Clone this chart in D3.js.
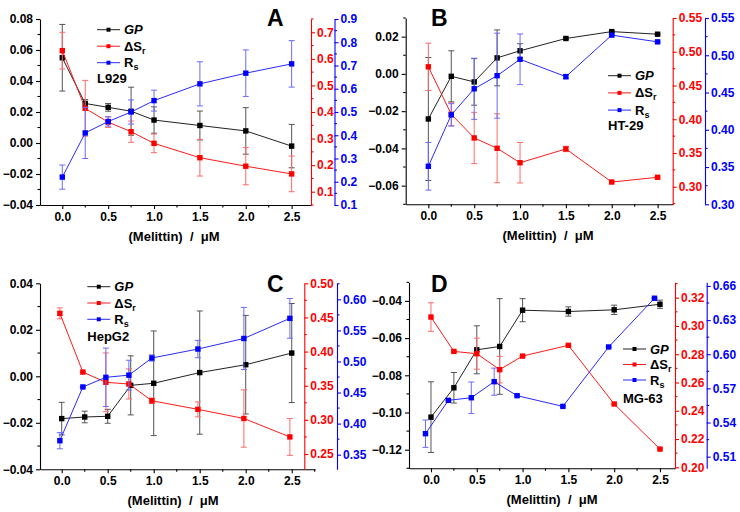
<!DOCTYPE html>
<html><head><meta charset="utf-8">
<script src="https://cdn.jsdelivr.net/npm/d3@7"></script>
<style>
body{margin:0;background:#fff;}
svg{font-family:"Liberation Sans",Arial,sans-serif;font-weight:bold;}
</style></head>
<body><svg id="chart" width="740" height="512"></svg>
<script>
// ---------------- DATA ----------------
const xValues = [0, 0.25, 0.5, 0.75, 1.0, 1.5, 2.0, 2.5];
const xTicks = [0, 0.5, 1.0, 1.5, 2.0, 2.5];
const seriesNames = ["GP", "ΔSr", "Rs"];

// Panel A – L929
const gpA = [0.055, 0.0255, 0.023, 0.0205, 0.0148, 0.0113, 0.0078, -0.002];
const gpErrA = [0.0215, 0.0025, 0.0025, 0.0155, 0.0085, 0.0093, 0.015, 0.014];
const dsA = [0.631, 0.414, 0.362, 0.326, 0.282, 0.228, 0.196, 0.167];
const dsErrA = [0.069, 0.105, 0.02, 0.04, 0.035, 0.069, 0.07, 0.067];
const rsA = [0.220, 0.410, 0.459, 0.500, 0.549, 0.621, 0.667, 0.707];
const rsErrA = [0.052, 0.11, 0.02, 0.052, 0.045, 0.095, 0.1, 0.1];
const leftTicksA = [-0.04, -0.02, 0.00, 0.02, 0.04, 0.06, 0.08];
const redTicksA = [0.1, 0.2, 0.3, 0.4, 0.5, 0.6, 0.7];
const blueTicksA = [0.1, 0.2, 0.3, 0.4, 0.5, 0.6, 0.7, 0.8, 0.9];

// Panel B – HT-29
const gpB = [-0.0242, -0.0013, -0.0043, 0.0086, 0.0124, 0.019, 0.0227, 0.0213];
const gpErrB = [0.033, 0.0137, 0.0125, 0.015, 0.0038, 0.0005, 0.0005, 0.0005];
const dsB = [0.4777, 0.4074, 0.3723, 0.357, 0.3356, 0.356, 0.307, 0.314];
const dsErrB = [0.035, 0.017, 0.038, 0.051, 0.03, 0.004, 0.001, 0.001];
const rsB = [0.351, 0.420, 0.455, 0.4726, 0.4946, 0.4713, 0.527, 0.518];
const rsErrB = [0.032, 0.015, 0.041, 0.057, 0.034, 0.003, 0.001, 0.001];
const leftTicksB = [-0.06, -0.04, -0.02, 0.00, 0.02];
const redTicksB = [0.30, 0.35, 0.40, 0.45, 0.50, 0.55];
const blueTicksB = [0.30, 0.35, 0.40, 0.45, 0.50, 0.55];

// Panel C – HepG2 (ΔSr and Rs plotted slightly left of the nominal doses)
const xShiftedC = [-0.02, 0.23, 0.48, 0.73, 0.98, 1.48, 1.98, 2.48];
const gpC = [-0.0182, -0.0175, -0.0172, -0.0039, -0.003, 0.0016, 0.005, 0.010];
const gpErrC = [0.007, 0.0025, 0.003, 0.0127, 0.0225, 0.0265, 0.0212, 0.0213];
const dsC = [0.456, 0.370, 0.355, 0.3525, 0.328, 0.3154, 0.302, 0.275];
const dsErrC = [0.008, 0.001, 0.043, 0.022, 0.004, 0.011, 0.042, 0.027];
const rsC = [0.3725, 0.459, 0.4745, 0.478, 0.5056, 0.520, 0.537, 0.5694];
const rsErrC = [0.013, 0.001, 0.047, 0.024, 0.005, 0.014, 0.05, 0.032];
const leftTicksC = [-0.04, -0.02, 0.00, 0.02, 0.04];
const redTicksC = [0.25, 0.30, 0.35, 0.40, 0.45, 0.50];
const blueTicksC = [0.35, 0.40, 0.45, 0.50, 0.55, 0.60];

// Panel D – MG-63 (Rs plotted slightly left of the nominal doses)
const xShiftedD = [-0.06, 0.19, 0.44, 0.69, 0.94, 1.44, 1.94, 2.44];
const gpD = [-0.1025, -0.0867, -0.0663, -0.0645, -0.045, -0.0457, -0.0448, -0.0418];
const gpErrD = [0.019, 0.0082, 0.0129, 0.0257, 0.0062, 0.0025, 0.0025, 0.0022];
const dsD = [0.3063, 0.282, 0.2804, 0.2691, 0.2787, 0.2863, 0.2448, 0.2129];
const dsErrD = [0.0101, 0.0005, 0.011, 0.0094, 0.0005, 0.0005, 0.0005, 0.0005];
const rsD = [0.5302, 0.5595, 0.5618, 0.5759, 0.5636, 0.5542, 0.6064, 0.6492];
const rsErrD = [0.012, 0.0005, 0.0138, 0.0119, 0.0005, 0.0005, 0.0005, 0.0005];
const leftTicksD = [-0.12, -0.10, -0.08, -0.06, -0.04];
const redTicksD = [0.20, 0.22, 0.24, 0.26, 0.28, 0.30, 0.32];
const blueTicksD = [0.51, 0.54, 0.57, 0.60, 0.63, 0.66];

const cellLines = ["L929", "HT-29", "HepG2", "MG-63"];
const panelLetters = ["A", "B", "C", "D"];
const xTitle = "(Melittin)  /  μM";

// ---------------- LAYOUT ----------------
const panels = [
  {letter: panelLetters[0], cell: cellLines[0],
   left: 40, xEnd: 311, redX: 311, blueX: 334.5, top: 19, bottom: 205,
   xDom: [-0.243, 2.711], lDom: [-0.04, 0.08], rDom: [0.05, 0.75], bDom: [0.1, 0.9],
   lTicks: leftTicksA, rTicks: redTicksA, bTicks: blueTicksA, lMinor: 0.01, rMinor: 0.05, bMinor: 0.05,
   lFmt: ".2f", rFmt: ".1f", bFmt: ".1f",
   series: [[xValues, gpA, gpErrA], [xValues, dsA, dsErrA], [xValues, rsA, rsErrA]],
   legX: 97, legY: 29.7, legDy: 16.5, cellY: 83, letterX: 267, letterY: 26, titleX: 174},
  {letter: panelLetters[1], cell: cellLines[1],
   left: 405.7, xEnd: 673, redX: 672.7, blueX: 705, top: 18, bottom: 204.3,
   xDom: [-0.247, 2.668], lDom: [-0.07, 0.03], rDom: [0.274, 0.55], bDom: [0.30, 0.55],
   lTicks: leftTicksB, rTicks: redTicksB, bTicks: blueTicksB, lMinor: 0.01, rMinor: 0.025, bMinor: 0.025,
   lFmt: ".2f", rFmt: ".2f", bFmt: ".2f",
   series: [[xValues, gpB, gpErrB], [xValues, dsB, dsErrB], [xValues, rsB, rsErrB]],
   legX: 608, legY: 75.7, legDy: 17.2, cellY: 130, letterX: 431, letterY: 26, titleX: 548},
  {letter: panelLetters[2], cell: cellLines[2],
   left: 40, xEnd: 315, redX: 304.3, blueX: 337, top: 283.3, bottom: 469.3,
   xDom: [-0.236, 2.753], lDom: [-0.04, 0.04], rDom: [0.2276, 0.50], bDom: [0.3265, 0.6258],
   lTicks: leftTicksC, rTicks: redTicksC, bTicks: blueTicksC, lMinor: 0.01, rMinor: 0.025, bMinor: 0.025,
   lFmt: ".2f", rFmt: ".2f", bFmt: ".2f",
   series: [[xValues, gpC, gpErrC], [xShiftedC, dsC, dsErrC], [xShiftedC, rsC, rsErrC]],
   legX: 87.3, legY: 286.7, legDy: 16.3, cellY: 341, letterX: 267, letterY: 291.7, titleX: 173},
  {letter: panelLetters[3], cell: cellLines[3],
   left: 409, xEnd: 675, redX: 675, blueX: 706.7, top: 282.3, bottom: 468.3,
   xDom: [-0.240, 2.664], lDom: [-0.13, -0.03], rDom: [0.1993, 0.3309], bDom: [0.4998, 0.6632],
   lTicks: leftTicksD, rTicks: redTicksD, bTicks: blueTicksD, lMinor: 0.01, rMinor: 0.01, bMinor: 0.015,
   lFmt: ".2f", rFmt: ".2f", bFmt: ".2f",
   series: [[xValues, gpD, gpErrD], [xValues, dsD, dsErrD], [xShiftedD, rsD, rsErrD]],
   legX: 623, legY: 349, legDy: 15.5, cellY: 402.5, letterX: 431, letterY: 292, titleX: 552}
];

const lineColors = ["#222222", "#ff1a1a", "#2a2aff"];
const errColors = ["#555555", "#ff6a6a", "#6a6aff"];
const markColors = ["#000000", "#ff0000", "#0000ff"];
const axisColors = ["#000000", "#ff0000", "#0000ff"];

const svg = d3.select("#chart");

function minorTicks(dom, step, majors) {
  const out = [];
  const start = Math.ceil(dom[0] / step - 1e-6);
  const end = Math.floor(dom[1] / step + 1e-6);
  for (let i = start; i <= end; i++) {
    const v = i * step;
    if (!majors.some(m => Math.abs(m - v) < step * 0.01)) out.push(v);
  }
  return out;
}

function styleAxis(g, color) {
  g.selectAll("path.domain").attr("stroke", color).attr("stroke-width", 1.1);
  g.selectAll(".tick line").attr("stroke", color).attr("stroke-width", 1.1);
  g.selectAll(".tick text").attr("fill", color).attr("font-size", 12)
    .attr("font-weight", "bold").attr("font-family", "Liberation Sans, Arial, sans-serif");
}

function drawMinor(g, scale, vals, orient, color) {
  vals.forEach(v => {
    const p = scale(v);
    let l;
    if (orient === "left") l = [0, p, -2.5, p];
    else if (orient === "right") l = [0, p, 2.5, p];
    else l = [p, 0, p, 2.5];
    g.append("line").attr("x1", l[0]).attr("y1", l[1]).attr("x2", l[2]).attr("y2", l[3])
      .attr("stroke", color).attr("stroke-width", 1.1);
  });
}

panels.forEach(P => {
  const x = d3.scaleLinear().domain(P.xDom).range([P.left, P.xEnd]);
  const yL = d3.scaleLinear().domain(P.lDom).range([P.bottom, P.top]);
  const yR = d3.scaleLinear().domain(P.rDom).range([P.bottom, P.top]);
  const yB = d3.scaleLinear().domain(P.bDom).range([P.bottom, P.top]);
  const yScales = [yL, yR, yB];

  // x axis
  const gx = svg.append("g").attr("transform", `translate(0,${P.bottom})`)
    .call(d3.axisBottom(x).tickValues(xTicks).tickFormat(d3.format(".1f")).tickSizeInner(4).tickSizeOuter(0).tickPadding(3));
  styleAxis(gx, "#000");
  drawMinor(gx, x, minorTicks(P.xDom, 0.25, xTicks), "bottom", "#000");

  // left axis
  const gl = svg.append("g").attr("transform", `translate(${P.left},0)`)
    .call(d3.axisLeft(yL).tickValues(P.lTicks).tickFormat(d3.format(P.lFmt)).tickSizeInner(4).tickSizeOuter(0).tickPadding(3));
  styleAxis(gl, "#000");
  drawMinor(gl, yL, minorTicks(P.lDom, P.lMinor, P.lTicks), "left", "#000");

  // red axis
  const gr = svg.append("g").attr("transform", `translate(${P.redX},0)`)
    .call(d3.axisRight(yR).tickValues(P.rTicks).tickFormat(d3.format(P.rFmt)).tickSizeInner(4).tickSizeOuter(0).tickPadding(2));
  styleAxis(gr, axisColors[1]);
  drawMinor(gr, yR, minorTicks(P.rDom, P.rMinor, P.rTicks), "right", axisColors[1]);

  // blue axis
  const gb = svg.append("g").attr("transform", `translate(${P.blueX},0)`)
    .call(d3.axisRight(yB).tickValues(P.bTicks).tickFormat(d3.format(P.bFmt)).tickSizeInner(4).tickSizeOuter(0).tickPadding(2));
  styleAxis(gb, axisColors[2]);
  drawMinor(gb, yB, minorTicks(P.bDom, P.bMinor, P.bTicks), "right", axisColors[2]);

  // series
  P.series.forEach((s, si) => {
    const [xs, ys, es] = s;
    const ysc = yScales[si];
    const data = xs.map((xv, i) => ({x: xv, y: ys[i], e: es[i]}));
    const g = svg.append("g");
    const eb = g.selectAll("g.eb").data(data).enter().append("g").attr("stroke", errColors[si]).attr("stroke-width", 1);
    eb.append("line").attr("x1", d => x(d.x)).attr("x2", d => x(d.x))
      .attr("y1", d => ysc(d.y - d.e)).attr("y2", d => ysc(d.y + d.e));
    eb.append("line").attr("x1", d => x(d.x) - 3).attr("x2", d => x(d.x) + 3)
      .attr("y1", d => ysc(d.y - d.e)).attr("y2", d => ysc(d.y - d.e));
    eb.append("line").attr("x1", d => x(d.x) - 3).attr("x2", d => x(d.x) + 3)
      .attr("y1", d => ysc(d.y + d.e)).attr("y2", d => ysc(d.y + d.e));
    g.append("path").datum(data)
      .attr("d", d3.line().x(d => x(d.x)).y(d => ysc(d.y)))
      .attr("fill", "none").attr("stroke", lineColors[si]).attr("stroke-width", 1);
    g.selectAll("rect").data(data).enter().append("rect")
      .attr("x", d => x(d.x) - 2.7).attr("y", d => ysc(d.y) - 2.7)
      .attr("width", 5.4).attr("height", 5.4).attr("fill", markColors[si]);
  });

  // legend
  seriesNames.forEach((name, i) => {
    const ly = P.legY + i * P.legDy;
    svg.append("line").attr("x1", P.legX).attr("x2", P.legX + 23).attr("y1", ly).attr("y2", ly)
      .attr("stroke", lineColors[i]).attr("stroke-width", 1);
    svg.append("rect").attr("x", P.legX + 11.5 - 2).attr("y", ly - 2).attr("width", 4).attr("height", 4)
      .attr("fill", markColors[i]);
    const t = svg.append("text").attr("x", P.legX + 27).attr("y", ly + 4.5).attr("font-size", 13).attr("fill", "#000");
    if (i === 0) {
      t.append("tspan").attr("font-style", "italic").text("GP");
    } else if (i === 1) {
      t.append("tspan").text("ΔS");
      t.append("tspan").attr("font-size", 9).attr("dy", 3).text("r");
    } else {
      t.append("tspan").text("R");
      t.append("tspan").attr("font-size", 9).attr("dy", 3).text("s");
    }
  });
  svg.append("text").attr("x", P.legX).attr("y", P.cellY).attr("font-size", 13).attr("fill", "#000").text(P.cell);

  // panel letter
  svg.append("text").attr("x", P.letterX).attr("y", P.letterY).attr("font-size", 23).attr("fill", "#000").text(P.letter);

  // x title
  svg.append("text").attr("x", P.titleX).attr("y", P.bottom + 36).attr("text-anchor", "middle")
    .attr("font-size", 13).attr("fill", "#000").attr("xml:space", "preserve").style("white-space", "pre").text(xTitle);
});
</script></body></html>
